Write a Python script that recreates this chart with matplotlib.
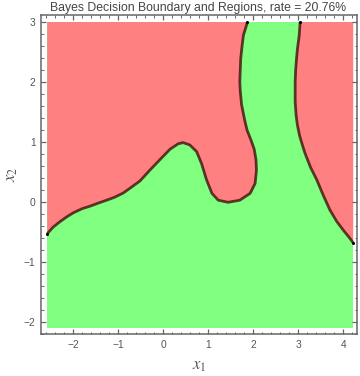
import matplotlib
matplotlib.use("Agg")
import matplotlib.pyplot as plt
import numpy as np

plt.rcParams['font.family'] = ['Liberation Sans', 'DejaVu Sans']
plt.rcParams['mathtext.fontset'] = 'stix'

title = "Bayes Decision Boundary and Regions, rate = 20.76%"

# plot region extent
x_min, x_max = -2.58, 4.22
y_min, y_max = -2.1, 3.0

# boundary 1 (left, wavy) points
b1_x = [-2.58, -2.45, -2.30, -2.15, -2.00, -1.80, -1.63, -1.45, -1.26, -1.08, -0.89,
        -0.74, -0.52, -0.30, -0.07, 0.15, 0.33, 0.44, 0.59, 0.74, 0.85, 0.96, 1.08,
        1.22, 1.44, 1.70, 1.93, 2.04, 2.07, 2.06, 2.02, 1.95, 1.86, 1.81, 1.74, 1.71,
        1.70, 1.71, 1.72, 1.75, 1.78, 1.83, 1.87]
b1_y = [-0.53, -0.42, -0.33, -0.25, -0.18, -0.11, -0.07, -0.02, 0.03, 0.08, 0.15,
        0.23, 0.35, 0.53, 0.71, 0.88, 0.97, 0.99, 0.95, 0.84, 0.64, 0.37, 0.145,
        0.03, -0.005, 0.03, 0.145, 0.31, 0.53, 0.70, 0.88, 1.03, 1.20, 1.36, 1.62, 1.85,
        2.00, 2.20, 2.39, 2.60, 2.78, 2.90, 3.00]

# boundary 2 (right) points
b2_x = [3.04, 3.02, 2.98, 2.96, 2.94, 2.93, 2.93, 2.95, 2.98, 3.03, 3.09, 3.15, 3.27,
        3.41, 3.55, 3.70, 3.85, 4.00, 4.12, 4.22]
b2_y = [3.00, 2.78, 2.55, 2.39, 2.20, 2.00, 1.67, 1.45, 1.28, 1.10, 0.95, 0.81, 0.58,
        0.37, 0.12, -0.13, -0.32, -0.47, -0.58, -0.68]

red = '#FF8080'
green = '#80FF80'

fig = plt.figure(figsize=(3.6, 3.76), dpi=100)
ax = fig.add_axes([41/360, 1-334/376, (357-41)/360, (334-15)/376])

# green background region
ax.fill([x_min, x_max, x_max, x_min], [y_min, y_min, y_max, y_max], color=green, lw=0)
# red left region
ax.fill([x_min] + b1_x + [x_min], [y_max] + b1_y + [y_max], color=red, lw=0)
# red right region
ax.fill(b2_x + [x_max, x_max], b2_y + [y_max, y_max], color=red, lw=0)

for bx, by in [(b1_x, b1_y), (b2_x, b2_y)]:
    ax.plot(bx, by, color='#300000', alpha=0.72, lw=2.0, solid_joinstyle='round',
            solid_capstyle='butt')
    ax.plot([bx[0], bx[-1]], [by[0], by[-1]], 'o', color='black', ms=2.2, mew=0)

ax.set_xlim(-2.718, 4.304)
ax.set_ylim(-2.2, 3.117)

ax.set_xticks([-2, -1, 0, 1, 2, 3, 4])
ax.set_yticks([-2, -1, 0, 1, 2, 3])
ax.set_xticks(np.arange(-2.6, 4.3, 0.2), minor=True)
ax.set_yticks(np.arange(-2.2, 3.1, 0.2), minor=True)

for s in ax.spines.values():
    s.set_color('#666666')
    s.set_linewidth(1.1)

ax.tick_params(which='both', direction='in', top=True, right=True, color='#666666',
               labelcolor='#555555', labelsize=7.4, pad=4)
ax.tick_params(which='major', length=3.5, width=0.9)
ax.tick_params(which='minor', length=1.8, width=0.7)

fig.text(198/360, 1-8/376, title, ha='center', va='center', fontsize=8.8, color='#444444')
fig.text(199/360, 1-367/376, r'$x_1$', ha='center', va='center', fontsize=12, color='#555555')
fig.text(12/360, 1-174/376, r'$x_2$', ha='center', va='center', fontsize=12, color='#555555',
         rotation=90)

fig.savefig('out.png', dpi=100)
